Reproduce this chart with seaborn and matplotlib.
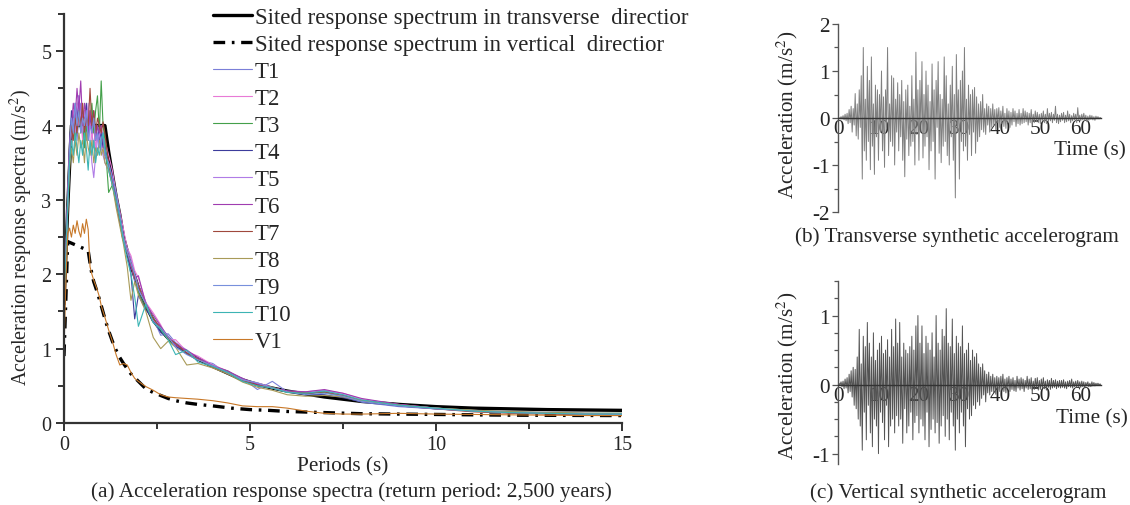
import numpy as np
import pandas as pd
import matplotlib
matplotlib.use('Agg')
import matplotlib.pyplot as plt
import seaborn as sns
from matplotlib.ticker import MultipleLocator

# periods for the synthetic spectra (s)
periods = [0, 0.05, 0.1, 0.15, 0.2, 0.25, 0.3, 0.35, 0.4, 0.45,
           0.5, 0.55, 0.6, 0.65, 0.7, 0.75, 0.8, 0.85, 0.9, 0.95,
           1.0, 1.05, 1.1, 1.2, 1.3, 1.4, 1.5, 1.6, 1.7, 1.8,
           1.9, 2.0, 2.2, 2.4, 2.6, 2.8, 3.0, 3.3, 3.6, 4.0,
           4.4, 4.8, 5.2, 5.6, 6.0, 6.5, 7.0, 7.5, 8.0, 9.0,
           10, 11, 12, 13, 14, 15]

T1 = [1.7, 2.3, 3.0, 3.7, 4.1, 3.9, 4.2, 3.8, 4.1, 4.3,
      3.9, 4.2, 3.8, 4.0, 4.2, 3.9, 3.7, 4.0, 3.8, 3.9,
      3.7, 3.9, 3.6, 3.45, 3.3, 3.0, 2.7, 2.45, 2.3, 2.15,
      1.9, 1.78, 1.6, 1.4, 1.18, 1.2, 1.08, 0.98, 0.85, 0.8,
      0.66, 0.6, 0.45, 0.56, 0.42, 0.40, 0.42, 0.35, 0.28, 0.22,
      0.19, 0.16, 0.15, 0.14, 0.13, 0.13]
T2 = [1.6, 2.2, 2.9, 3.6, 4.0, 4.2, 3.9, 4.3, 4.0, 4.1,
      3.8, 4.2, 4.0, 3.9, 4.1, 3.8, 4.0, 3.7, 3.9, 3.8,
      4.0, 3.7, 3.8, 3.6, 3.4, 3.1, 2.85, 2.6, 2.35, 2.25,
      2.05, 1.95, 1.62, 1.48, 1.32, 1.12, 1.12, 0.96, 0.9, 0.78,
      0.7, 0.58, 0.54, 0.48, 0.42, 0.4, 0.44, 0.4, 0.32, 0.25,
      0.2, 0.17, 0.15, 0.14, 0.13, 0.12]
T3 = [1.7, 2.4, 3.1, 3.8, 3.9, 4.1, 3.8, 4.0, 4.2, 3.9,
      4.1, 3.7, 4.0, 3.8, 4.1, 4.3, 3.9, 4.2, 4.4, 3.9,
      4.6, 4.0, 3.8, 3.1, 3.2, 2.95, 2.75, 2.5, 2.3, 2.1,
      2.0, 1.75, 1.55, 1.42, 1.25, 1.12, 1.02, 0.94, 0.86, 0.76,
      0.7, 0.58, 0.5, 0.48, 0.42, 0.4, 0.41, 0.36, 0.3, 0.24,
      0.2, 0.17, 0.15, 0.14, 0.13, 0.13]
T4 = [1.6, 2.3, 3.0, 3.7, 4.2, 4.0, 4.3, 4.1, 4.4, 4.0,
      4.2, 4.1, 4.3, 3.9, 4.1, 4.0, 4.2, 3.9, 4.0, 3.8,
      3.9, 3.7, 3.7, 3.5, 3.3, 3.05, 2.8, 2.5, 2.3, 2.0,
      1.4, 1.72, 1.52, 1.4, 1.22, 1.15, 1.04, 0.94, 0.86, 0.75,
      0.68, 0.57, 0.5, 0.47, 0.42, 0.39, 0.38, 0.34, 0.29, 0.23,
      0.19, 0.16, 0.14, 0.13, 0.12, 0.12]
T5 = [1.6, 2.2, 3.0, 3.6, 3.9, 4.1, 3.9, 4.2, 4.4, 4.1,
      3.9, 4.2, 4.0, 4.3, 3.8, 3.5, 3.3, 3.6, 3.8, 3.9,
      3.7, 3.6, 3.5, 3.4, 3.2, 3.0, 2.7, 2.45, 2.35, 2.2,
      2.0, 1.85, 1.62, 1.38, 1.3, 1.16, 1.06, 0.96, 0.86, 0.77,
      0.68, 0.58, 0.53, 0.47, 0.43, 0.42, 0.44, 0.38, 0.3, 0.24,
      0.2, 0.16, 0.14, 0.13, 0.12, 0.11]
T6 = [1.7, 2.3, 3.1, 3.8, 4.0, 4.3, 4.1, 4.5, 4.2, 4.6,
      4.0, 4.3, 4.1, 3.9, 4.2, 3.9, 4.1, 3.8, 4.0, 3.9,
      4.0, 3.8, 3.6, 3.5, 3.25, 3.0, 2.75, 2.5, 2.3, 2.1,
      1.95, 1.98, 1.6, 1.45, 1.3, 1.16, 1.04, 0.98, 0.88, 0.77,
      0.7, 0.6, 0.52, 0.47, 0.43, 0.42, 0.45, 0.4, 0.33, 0.25,
      0.2, 0.16, 0.14, 0.13, 0.12, 0.11]
T7 = [1.6, 2.2, 2.9, 3.6, 4.0, 3.8, 4.1, 3.9, 4.2, 4.0,
      4.3, 3.9, 4.1, 4.0, 4.5, 4.0, 4.2, 3.9, 4.1, 4.0,
      3.9, 4.05, 3.9, 3.5, 3.2, 3.0, 2.7, 2.5, 2.3, 2.15,
      1.95, 1.85, 1.58, 1.4, 1.28, 1.14, 1.07, 0.94, 0.86, 0.75,
      0.68, 0.57, 0.51, 0.47, 0.42, 0.4, 0.42, 0.37, 0.3, 0.24,
      0.19, 0.15, 0.13, 0.12, 0.11, 0.1]
T8 = [1.6, 2.1, 2.8, 3.4, 3.7, 3.5, 3.8, 3.6, 3.9, 3.7,
      3.8, 3.5, 3.9, 3.7, 3.6, 3.8, 3.5, 3.7, 3.6, 3.8,
      3.6, 3.7, 3.5, 3.4, 3.2, 2.9, 2.65, 2.4, 2.1, 1.65,
      1.9, 1.72, 1.5, 1.15, 1.0, 1.1, 1.02, 0.78, 0.8, 0.74,
      0.66, 0.55, 0.48, 0.44, 0.38, 0.36, 0.37, 0.35, 0.3, 0.24,
      0.2, 0.17, 0.15, 0.14, 0.13, 0.13]
T9 = [1.7, 2.3, 3.0, 3.7, 4.1, 3.9, 4.3, 4.0, 4.2, 3.9,
      4.1, 4.0, 4.2, 3.8, 4.0, 3.9, 4.1, 3.8, 3.9, 3.7,
      3.8, 3.9, 3.6, 3.5, 3.3, 3.1, 2.8, 2.5, 2.3, 2.15,
      2.0, 1.8, 1.6, 1.35, 1.28, 1.16, 1.02, 0.92, 0.85, 0.77,
      0.68, 0.58, 0.54, 0.47, 0.42, 0.38, 0.4, 0.36, 0.29, 0.23,
      0.19, 0.16, 0.14, 0.13, 0.12, 0.12]
T10 = [1.6, 2.2, 2.9, 3.5, 3.8, 3.6, 3.9, 3.7, 3.5, 3.8,
       3.6, 3.9, 3.7, 3.4, 3.8, 3.6, 3.8, 3.5, 3.7, 3.6,
       3.8, 3.9, 3.7, 3.4, 3.2, 3.0, 2.75, 2.45, 2.2, 2.0,
       1.7, 1.3, 1.6, 1.35, 1.26, 1.12, 0.92, 0.98, 0.82, 0.76,
       0.68, 0.56, 0.5, 0.47, 0.41, 0.4, 0.43, 0.38, 0.31, 0.24,
       0.2, 0.16, 0.14, 0.13, 0.12, 0.12]
V1 = [1.0, 1.9, 2.55, 2.62, 2.5, 2.66, 2.55, 2.72, 2.58, 2.5,
      2.68, 2.55, 2.74, 2.6, 2.1, 2.0, 1.92, 1.85, 1.78, 1.7,
      1.58, 1.5, 1.42, 1.25, 1.1, 0.92, 0.78, 0.8, 0.78, 0.68,
      0.6, 0.56, 0.49, 0.44, 0.38, 0.35, 0.34, 0.33, 0.32, 0.30,
      0.27, 0.23, 0.22, 0.22, 0.20, 0.16, 0.13, 0.12, 0.12, 0.13,
      0.12, 0.115, 0.11, 0.105, 0.10, 0.10]

# sited (target) spectra
target_h_periods = [0, 0.1, 0.2, 1.1, 1.2, 1.3, 1.4, 1.5, 1.6, 1.8, 2.0, 2.2,
                    2.4, 2.6, 2.8, 3.0, 3.3, 3.6, 4.0, 4.4, 4.8, 5.2, 5.6, 6.0,
                    6.5, 7.0, 7.5, 8.0, 9, 10, 11, 12, 13, 14, 15]
target_h = [1.6, 2.9, 4.0, 4.0, 3.65, 3.35, 3.05, 2.8, 2.5, 2.12, 1.82, 1.58,
            1.38, 1.25, 1.14, 1.05, 0.95, 0.86, 0.76, 0.67, 0.58, 0.52, 0.47, 0.43,
            0.39, 0.35, 0.32, 0.29, 0.25, 0.22, 0.20, 0.19, 0.18, 0.175, 0.17]
target_v_periods = [0, 0.1, 0.65, 0.7, 0.75, 0.8, 0.9, 1.0, 1.1, 1.2, 1.3, 1.4,
                    1.5, 1.6, 1.8, 2.0, 2.2, 2.4, 2.6, 2.8, 3.0, 3.3, 3.6, 4.0,
                    4.5, 5.0, 5.5, 6.0, 7.0, 8.0, 9.0, 10, 12, 15]
target_v = [0.9, 2.44, 2.32, 2.15, 2.0, 1.9, 1.75, 1.58, 1.4, 1.24, 1.1, 0.98,
            0.88, 0.8, 0.66, 0.56, 0.46, 0.41, 0.37, 0.33, 0.30, 0.27, 0.25, 0.23,
            0.20, 0.18, 0.17, 0.155, 0.14, 0.125, 0.12, 0.115, 0.105, 0.10]

series_names = ['T1', 'T2', 'T3', 'T4', 'T5', 'T6', 'T7', 'T8', 'T9', 'T10', 'V1']
series_values = [T1, T2, T3, T4, T5, T6, T7, T8, T9, T10, V1]
series_colors = ['#7b7fd8', '#e87ad6', '#44a04a', '#3c3c9c', '#b07ce6', '#a03cb0',
                 '#a0483c', '#a89a58', '#7890dc', '#3cb4b4', '#c87828']

# synthetic accelerograms, sampled every 0.25 s
dt = 0.25
acc_transverse = [
    0.0, 0.01, -0.02, 0.03, -0.02, 0.05, -0.04, 0.08, -0.06, 0.1, -0.12, 0.18, -0.1, 0.25, -0.3, 0.2, -0.15, 0.52, -0.38, 0.3,
    -0.45, 0.6, -0.2, 0.9, -1.3, 1.5, -0.7, 0.4, -0.9, 1.1, -0.5, 0.8, -1.1, 1.3, -0.6, 0.3, -1.2, 0.7, -0.4, 0.6,
    -0.9, 0.5, -0.3, 1.0, -0.7, 0.45, -1.05, 0.6, -0.2, 1.5, -0.8, 0.3, -0.5, 0.9, -0.6, 0.85, -1.0, 0.4, -0.3, 0.75,
    -0.7, 0.5, -0.4, 0.8, -0.9, 0.35, -1.25, 0.6, -0.45, 0.7, -0.8, 0.25, -0.6, 0.9, -0.5, 0.4, -1.0, 1.4, -0.35, 0.6,
    -0.9, 0.8, -0.3, 1.2, -0.85, 0.5, -0.6, 1.0, -0.4, 0.7, -1.1, 0.35, -0.7, 1.15, -0.5, 0.6, -1.3, 0.8, -0.2, 1.2,
    -0.75, 0.5, -0.95, 0.4, -0.6, 1.3, -0.5, 0.9, -0.8, 0.3, -1.0, 0.7, -0.4, 1.1, -0.9, 0.5, -1.7, 1.35, -0.3, 0.6,
    -1.3, 0.8, -0.5, 1.0, -0.7, 1.5, -0.6, 0.4, -0.9, 0.7, -0.35, 0.5, -0.8, 0.6, -0.3, 0.65, -0.75, 0.45, -0.5, 0.3,
    -0.4, 0.35, -0.25, 0.5, -0.3, 0.2, -0.35, 0.3, -0.15, 0.25, -0.3, 0.2, -0.2, 0.3, -0.15, 0.18, -0.25, 0.2, -0.1, 0.22,
    -0.2, 0.15, -0.12, 0.25, -0.18, 0.1, -0.22, 0.2, -0.1, 0.15, -0.2, 0.12, -0.15, 0.2, -0.08, 0.15, -0.18, 0.1, -0.12, 0.18,
    -0.15, 0.1, -0.12, 0.2, -0.1, 0.15, -0.08, 0.12, -0.15, 0.1, -0.1, 0.18, -0.12, 0.08, -0.1, 0.15, -0.08, 0.12, -0.1, 0.08,
    -0.12, 0.1, -0.06, 0.15, -0.1, 0.08, -0.12, 0.2, -0.08, 0.1, -0.06, 0.12, -0.1, 0.08, -0.05, 0.25, -0.1, 0.08, -0.12, 0.06,
    -0.08, 0.1, -0.05, 0.12, -0.1, 0.06, -0.08, 0.15, -0.06, 0.08, -0.1, 0.05, -0.06, 0.1, -0.04, 0.08, -0.1, 0.22, -0.05, 0.06,
    -0.06, 0.08, -0.04, 0.1, -0.05, 0.06, -0.08, 0.04, -0.05, 0.06, -0.03, 0.05, -0.04, 0.03, -0.05, 0.04, -0.02, 0.03, -0.02, 0.01,
    0.0]
acc_vertical = [
    0.0, 0.02, -0.01, 0.04, -0.03, 0.05, -0.06, 0.08, -0.05, 0.1, -0.12, 0.15, -0.1, 0.2, -0.18, 0.25, -0.3, 0.22, -0.35, 0.4,
    -0.5, 0.8, -0.6, 0.3, -0.95, 0.7, -0.4, 0.55, -0.8, 0.9, -0.3, 0.6, -0.7, 0.4, -0.9, 0.75, -0.5, 0.35, -0.6, 0.5,
    -1.0, 0.6, -0.4, 0.7, -0.55, 0.45, -0.8, 0.5, -0.3, 0.65, -0.9, 0.4, -0.6, 0.8, -0.5, 0.55, -0.7, 0.95, -0.45, 0.6,
    -0.6, 0.9, -0.5, 0.4, -0.85, 0.6, -0.35, 0.5, -0.7, 0.45, -0.6, 0.55, -0.4, 0.7, -0.8, 0.5, -0.55, 0.85, -0.45, 1.0,
    -0.7, 0.6, -0.5, 0.85, -0.6, 0.45, -0.8, 0.7, -0.4, 0.6, -0.9, 0.5, -0.65, 0.75, -0.5, 0.4, -0.7, 1.0, -0.55, 0.6,
    -0.85, 0.5, -0.6, 0.8, -0.45, 0.7, -0.75, 1.1, -0.5, 0.6, -0.8, 0.55, -0.4, 0.95, -0.6, 0.45, -0.95, 0.7, -0.5, 0.6,
    -0.7, 0.55, -0.4, 0.85, -0.6, 0.45, -0.9, 0.5, -0.35, 0.6, -0.5, 0.35, -0.45, 0.5, -0.3, 0.4, -0.35, 0.45, -0.25, 0.3,
    -0.3, 0.25, -0.2, 0.3, -0.15, 0.2, -0.25, 0.15, -0.12, 0.18, -0.15, 0.12, -0.1, 0.15, -0.12, 0.1, -0.14, 0.12, -0.08, 0.1,
    -0.1, 0.12, -0.08, 0.15, -0.1, 0.08, -0.12, 0.1, -0.06, 0.12, -0.1, 0.08, -0.07, 0.1, -0.09, 0.06, -0.1, 0.12, -0.05, 0.08,
    -0.08, 0.1, -0.06, 0.08, -0.1, 0.06, -0.05, 0.12, -0.07, 0.08, -0.06, 0.1, -0.08, 0.05, -0.07, 0.09, -0.05, 0.1, -0.08, 0.06,
    -0.07, 0.08, -0.05, 0.1, -0.06, 0.05, -0.08, 0.07, -0.04, 0.06, -0.07, 0.09, -0.05, 0.06, -0.04, 0.07, -0.06, 0.05, -0.04, 0.06,
    -0.05, 0.06, -0.04, 0.07, -0.05, 0.04, -0.06, 0.05, -0.03, 0.06, -0.04, 0.08, -0.05, 0.04, -0.03, 0.05, -0.04, 0.06, -0.03, 0.04,
    -0.04, 0.05, -0.03, 0.04, -0.05, 0.03, -0.02, 0.04, -0.03, 0.02, -0.03, 0.04, -0.02, 0.03, -0.02, 0.02, -0.01, 0.02, -0.01, 0.01,
    0.0]

#style
sns.set_style('ticks')
plt.rcParams['font.family'] = ['Liberation Serif', 'DejaVu Serif']
plt.rcParams['mathtext.fontset'] = 'stix'
plt.rcParams['axes.unicode_minus'] = False
FS_TICK = 14.5
FS_TEXT = 15.3
FS_LEG = 16.5

W, H = 1130, 506
fig = plt.figure(figsize=(W / 100, H / 100), dpi=100)
ax_a = fig.add_axes([64 / W, 82 / H, 558 / W, 409 / H])
ax_b = fig.add_axes([838 / W, 293 / H, 263 / W, 188 / H])
ax_c = fig.add_axes([838 / W, 41 / H, 263 / W, 183 / H])

############################
# (a) response spectra
############################
sns.lineplot(x=target_h_periods, y=target_h, ax=ax_a, color='black', lw=2.4, zorder=1.5,
             label='Sited response spectrum in transverse  directior')
sns.lineplot(x=target_v_periods, y=target_v, ax=ax_a, color='black', lw=2.4, zorder=1.5,
             linestyle=(0, (3.5, 2, 0.8, 2)),
             label='Sited response spectrum in vertical  directior')
for name, vals, col in zip(series_names, series_values, series_colors):
    sns.lineplot(x=periods, y=vals, ax=ax_a, color=col, lw=0.8, zorder=2, label=name)

ax_a.set_xlim(0, 15)
ax_a.set_ylim(0, 5.5)
ax_a.xaxis.set_major_locator(MultipleLocator(5))
ax_a.xaxis.set_minor_locator(MultipleLocator(2.5))
ax_a.yaxis.set_major_locator(MultipleLocator(1))
ax_a.yaxis.set_minor_locator(MultipleLocator(0.5))
for s in ['top', 'right']:
    ax_a.spines[s].set_visible(False)
for s in ['left', 'bottom']:
    ax_a.spines[s].set_linewidth(1.6)
    ax_a.spines[s].set_color('#333333')
ax_a.tick_params(which='major', direction='out', length=6, width=1.4, color='#333333',
                 labelsize=FS_TICK, pad=3)
ax_a.tick_params(which='minor', direction='out', length=4, width=1.4, color='#333333')
ax_a.set_xlabel('')
ax_a.set_ylabel('Acceleration response spectra (m/s$^{2}$)', fontsize=FS_TICK)
ax_a.yaxis.set_label_coords((35 - 64) / 558, 0.455)
ax_a.legend(loc='upper left', bbox_to_anchor=(0.267, 1.018), frameon=False, fontsize=FS_LEG,
            handlelength=1.7, handletextpad=0.13, labelspacing=0.26, borderpad=0,
            borderaxespad=0)

############################
# (b), (c) accelerograms
############################
def accel_panel(ax, acc, ylim, minor, col, ylab_y):
    time = np.arange(len(acc)) * dt
    sns.lineplot(x=time, y=acc, ax=ax, color=col, lw=0.7)
    ax.set_xlim(0, 65)
    ax.set_ylim(*ylim)
    ax.spines['top'].set_visible(False)
    ax.spines['right'].set_visible(False)
    ax.spines['bottom'].set_position(('data', 0))
    ax.spines['bottom'].set_color('#333333')
    ax.spines['bottom'].set_linewidth(1.0)
    ax.spines['left'].set_color('#555555')
    ax.spines['left'].set_linewidth(1.0)
    ax.set_xticks(range(0, 61, 10))
    ax.yaxis.set_major_locator(MultipleLocator(1))
    ax.yaxis.set_minor_locator(MultipleLocator(minor))
    ax.tick_params(axis='x', length=0, labelsize=FS_TEXT, pad=1)
    ax.tick_params(axis='y', which='major', direction='out', length=4, width=0.9,
                   color='#555555', labelsize=FS_TEXT, pad=2)
    ax.tick_params(axis='y', which='minor', direction='out', length=3, width=0.9,
                   color='#555555')
    ax.set_xlabel('')
    ax.set_ylabel('Acceleration (m/s$^{2}$)', fontsize=FS_TEXT)
    ax.yaxis.set_label_coords(-0.145, ylab_y)

accel_panel(ax_b, acc_transverse, (-2, 2), 0.5, '0.5', 0.52)
accel_panel(ax_c, acc_vertical, (-1.15, 1.5), 0.25, '0.33', 0.49)
ax_b.text(62.2, -0.68, 'Time (s)', ha='center', va='center', fontsize=FS_TEXT)
ax_c.text(62.7, -0.48, 'Time (s)', ha='center', va='center', fontsize=FS_TEXT)

# captions
def fig_text(x, y, s):
    fig.text(x / W, 1 - y / H, s, ha='center', va='center', fontsize=FS_TEXT)

fig_text(343, 467, 'Periods (s)')
fig_text(351, 492, '(a) Acceleration response spectra (return period: 2,500 years)')
fig_text(957, 237, '(b) Transverse synthetic accelerogram')
fig_text(958, 493, '(c) Vertical synthetic accelerogram')

fig.savefig('out.png', dpi=100)
